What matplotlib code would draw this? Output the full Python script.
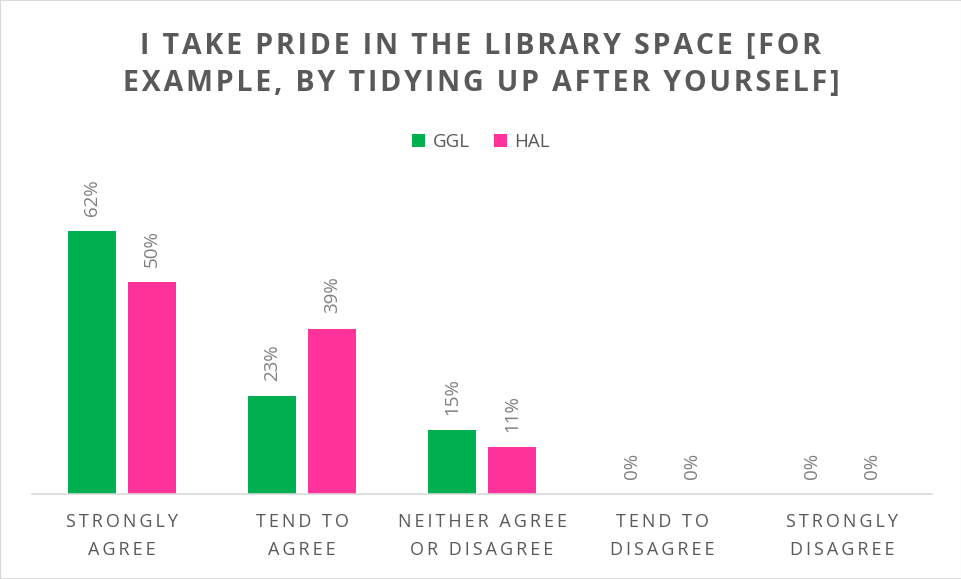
import matplotlib
matplotlib.use("Agg")
import matplotlib.pyplot as plt
import numpy as np
from matplotlib.patches import Rectangle

categories = ["STRONGLY\nAGREE", "TEND TO\nAGREE", "NEITHER AGREE\nOR DISAGREE", "TEND TO\nDISAGREE", "STRONGLY\nDISAGREE"]
series_names = ["GGL", "HAL"]
ggl = [62, 23, 15, 0, 0]
hal = [50, 39, 11, 0, 0]
colors = ["#00B050", "#FF3399"]
title = "I TAKE PRIDE IN THE LIBRARY SPACE [FOR\nEXAMPLE, BY TIDYING UP AFTER YOURSELF]"

plt.rcParams['font.family'] = ['Open Sans', 'DejaVu Sans']


def spaced(s, sp):
    return "\n".join(sp.join(list(line)) for line in s.split("\n"))


W, H = 962, 579
fig = plt.figure(figsize=(W/100, H/100), dpi=100)
fig.patches.append(Rectangle((0, 0), 1, 1, transform=fig.transFigure, fill=False,
                             edgecolor="#D9D9D9", linewidth=1.5))

ax = fig.add_axes([32/W, 1-494/H, 900/W, (494-197)/H])
x = np.arange(len(categories))
bw = 48/180
off = 30/180
for vals, c, s, d in [(ggl, colors[0], series_names[0], -off), (hal, colors[1], series_names[1], off)]:
    ax.bar(x + d, vals, width=bw, color=c, label=s, zorder=2)
    for xi, v in zip(x + d, vals):
        ax.annotate(f"{v}%", (xi, v), xytext=(0, 11), textcoords="offset points",
                    rotation=90, ha="center", va="bottom", fontsize=13.5, color="#7F7F7F")

ax.set_xlim(-0.5, len(categories) - 0.5)
ax.set_ylim(0, 70)
ax.set_yticks([])
ax.set_xticks(x)
ax.set_xticklabels([spaced(c, "\u2009") for c in categories], fontsize=13,
                   color="#595959", linespacing=1.65)
ax.tick_params(axis="x", length=0, pad=14)
for sp in ["top", "left", "right"]:
    ax.spines[sp].set_visible(False)
ax.spines["bottom"].set_color("#D9D9D9")
ax.spines["bottom"].set_linewidth(1.2)

fig.text(0.5, 1-65/H, spaced(title, "\u200a"), ha="center", va="center", fontsize=20.5,
         fontweight="bold", color="#595959", linespacing=1.35)

leg = fig.legend(loc="center", bbox_to_anchor=(0.5, 1-142/H), ncol=2, frameon=False,
                 fontsize=13.5, handlelength=0.7, handleheight=0.7, handletextpad=0.4,
                 columnspacing=1.3)
for t in leg.get_texts():
    t.set_color("#595959")

fig.savefig("out.png", dpi=100)
